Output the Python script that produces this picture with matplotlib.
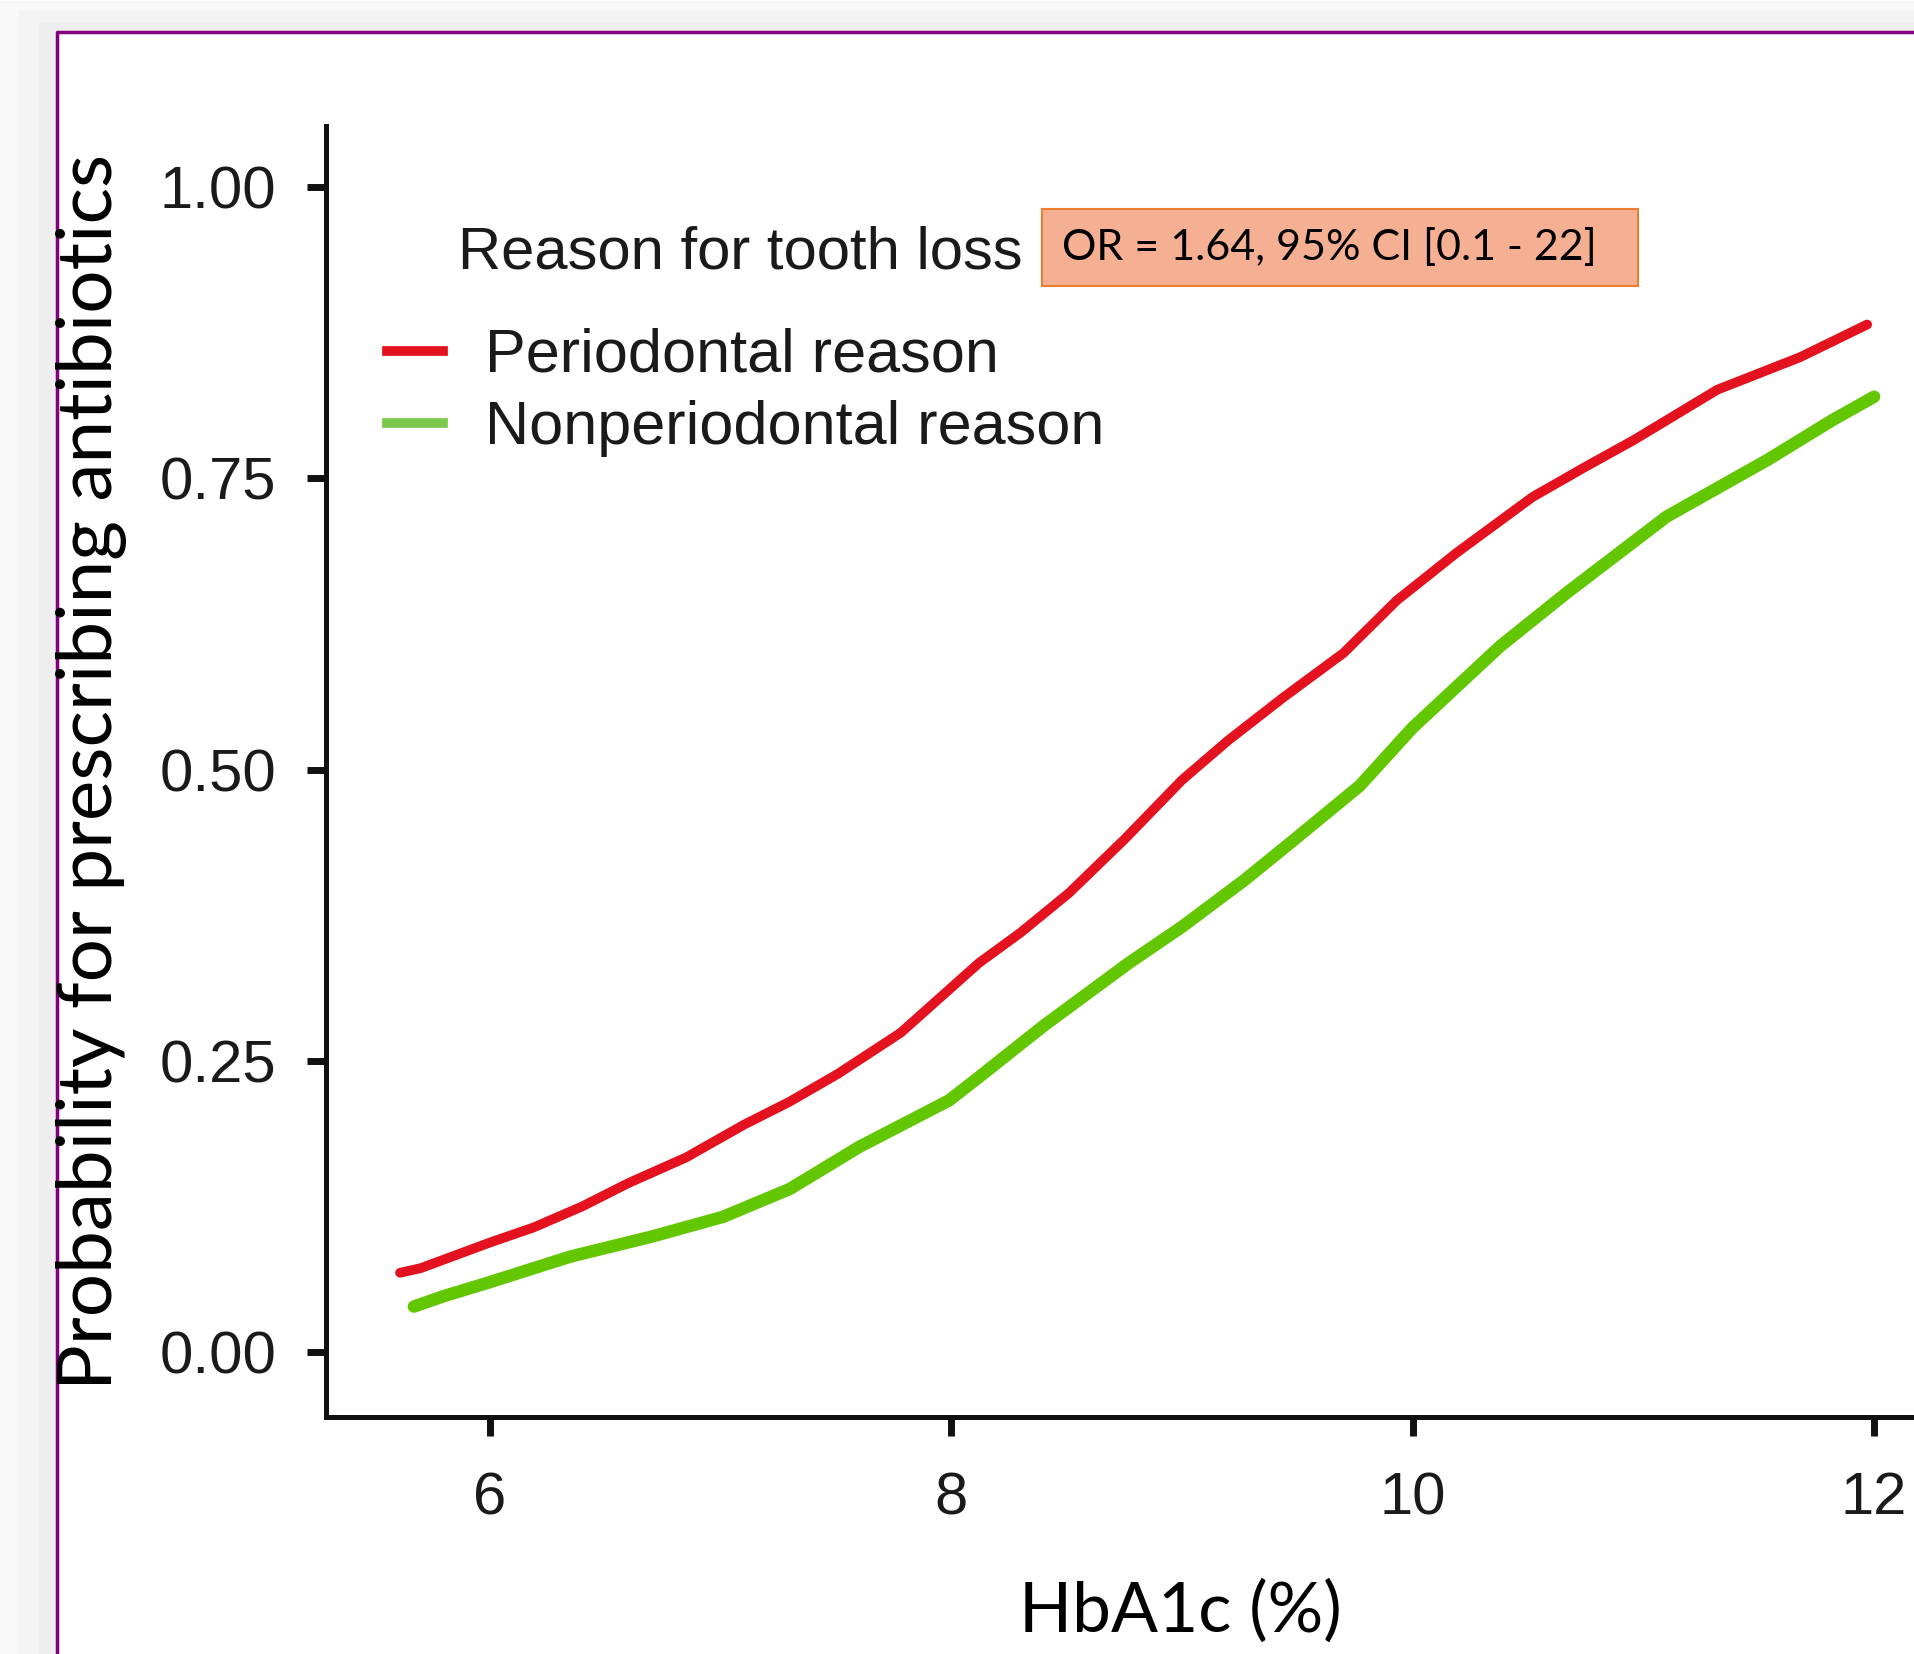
import matplotlib
matplotlib.use("Agg")
import matplotlib.pyplot as plt
from matplotlib.lines import Line2D
from matplotlib.patches import Rectangle

# values
hba1c_perio = [5.61, 5.70, 5.85, 6.00, 6.19, 6.40, 6.60, 6.85, 7.10, 7.30, 7.51, 7.78,
               8.12, 8.30, 8.51, 8.75, 9.00, 9.20, 9.44, 9.70, 9.93, 10.19, 10.52,
               10.75, 10.96, 11.32, 11.68, 11.97]
prob_perio = [0.068, 0.072, 0.083, 0.094, 0.107, 0.125, 0.145, 0.167, 0.195, 0.215,
              0.239, 0.274, 0.334, 0.360, 0.394, 0.440, 0.491, 0.525, 0.562, 0.600,
              0.645, 0.686, 0.734, 0.760, 0.783, 0.826, 0.854, 0.882]

hba1c_nonperio = [5.67, 5.80, 6.00, 6.35, 6.70, 7.01, 7.30, 7.60, 7.99, 8.12, 8.40,
                  8.77, 9.00, 9.27, 9.50, 9.77, 10.00, 10.38, 10.67, 11.10, 11.54,
                  11.82, 12.00]
prob_nonperio = [0.039, 0.048, 0.060, 0.082, 0.099, 0.116, 0.140, 0.176, 0.216, 0.236,
                 0.280, 0.334, 0.365, 0.405, 0.442, 0.486, 0.536, 0.606, 0.652, 0.717,
                 0.766, 0.800, 0.820]

x_ticks = [6, 8, 10, 12]
y_ticks = [0.00, 0.25, 0.50, 0.75, 1.00]
y_ticklabels = ["0.00", "0.25", "0.50", "0.75", "1.00"]
series_names = ["Periodontal reason", "Nonperiodontal reason"]
legend_title = "Reason for tooth loss"
or_text = "OR = 1.64, 95% CI [0.1 - 22]"

RED = "#E3121E"
GREEN = "#62C600"

W, H = 1914, 1654


def fx(px):
    return px / W


def fy(py):
    return 1 - py / H


fig = plt.figure(figsize=(W / 100, H / 100), dpi=100)
fig.patch.set_facecolor("white")

# soft shadow outside the purple frame
for off, col in [(57, "#f8f8f8"), (38, "#f3f3f3"), (18, "#eeeeee")]:
    fig.patches.append(Rectangle((fx(57 - off), 0), fx(off), fy(32 - off * 0.55),
                                 transform=fig.transFigure, color=col, lw=0, zorder=-10))
    fig.patches.append(Rectangle((fx(57 - off), fy(32)), 1, (off * 0.55) / H,
                                 transform=fig.transFigure, color=col, lw=0, zorder=-10))
fig.patches.append(Rectangle((fx(57), 0), 1, fy(32), transform=fig.transFigure,
                             color="white", lw=0, zorder=-9))
fig.add_artist(Line2D([fx(57), fx(57), 1], [0, fy(32), fy(32)], transform=fig.transFigure,
                      color="#800080", lw=2.5, zorder=1))

ax = fig.add_axes([fx(326), fy(1417), 1 - fx(326), fy(126) - fy(1417)])
ax.set_facecolor("none")
ax.set_zorder(2)
ax.plot(hba1c_perio, prob_perio, color=RED, lw=7, solid_capstyle="round",
        solid_joinstyle="round", zorder=3)
ax.plot(hba1c_nonperio, prob_nonperio, color=GREEN, lw=9, solid_capstyle="round",
        solid_joinstyle="round", zorder=3)

ax.set_xlim(5.289, 12.173)
ax.set_ylim(-0.0558, 1.0524)
ax.set_xticks(x_ticks)
ax.set_yticks(y_ticks)
ax.set_yticklabels(y_ticklabels)
for s in ["top", "right"]:
    ax.spines[s].set_visible(False)
for s in ["left", "bottom"]:
    ax.spines[s].set_linewidth(3.6)
    ax.spines[s].set_color("#111111")
tick_font = ["Liberation Sans Narrow", "Liberation Sans"]
ax.tick_params(axis="both", length=14, width=5, color="#111111", labelcolor="#1a1a1a",
               labelsize=43)
ax.tick_params(axis="y", pad=22)
ax.tick_params(axis="x", pad=25)
for lab in ax.get_xticklabels() + ax.get_yticklabels():
    lab.set_family(tick_font)

fig.text(fx(92), fy(772), "Probability for prescribing antibiotics", rotation=90,
         ha="center", va="center", fontsize=55, family=["Lato", "DejaVu Sans"], color="black")
fig.text(fx(1180), fy(1611), "HbA1c (%)", ha="center", va="center", fontsize=50,
         family=["Lato", "DejaVu Sans"], color="black")

# legend
fig.text(fx(458), fy(253), legend_title, ha="left", va="center", fontsize=43,
         family=["Liberation Sans"], color="#1a1a1a")
handles = [Line2D([], [], color=RED, lw=7), Line2D([], [], color="#7CC84A", lw=7)]
leg = ax.legend(handles, series_names, loc="upper left", bbox_to_anchor=(fx(387), fy(328)),
                bbox_transform=fig.transFigure, frameon=False, borderpad=0, borderaxespad=0,
                handlelength=0.92, handletextpad=0.68, labelspacing=0.25,
                prop={"family": "Liberation Sans", "size": 44})
for t in leg.get_texts():
    t.set_color("#1a1a1a")

# odds-ratio box
fig.patches.append(Rectangle((fx(1042), fy(286)), fx(1638) - fx(1042), fy(209) - fy(286),
                             transform=fig.transFigure, facecolor="#F5AF92",
                             edgecolor="#ED7D31", lw=1.5, zorder=3))
fig.text(fx(1062), fy(248), or_text, ha="left", va="center", fontsize=31,
         family=["Lato", "DejaVu Sans"], color="black", zorder=4)

fig.savefig("out.png", dpi=100)
